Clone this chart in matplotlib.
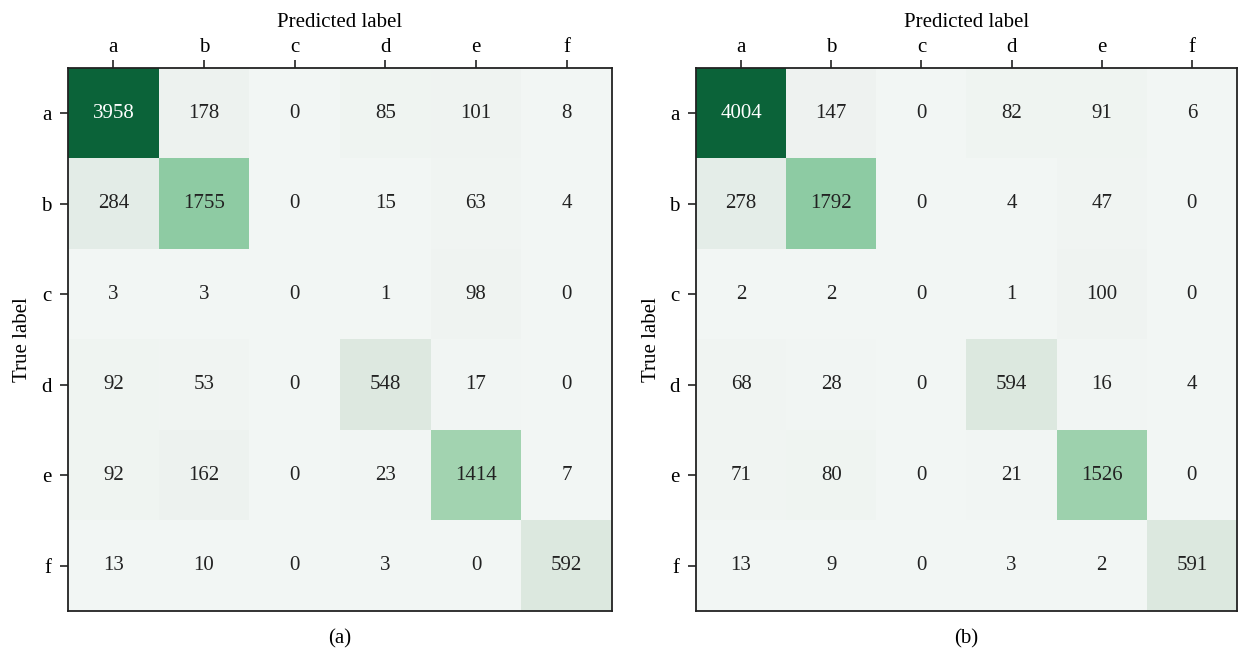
import numpy as np
import matplotlib
matplotlib.use("Agg")
import matplotlib.pyplot as plt
from matplotlib.colors import LinearSegmentedColormap

plt.rcParams['font.family'] = ['Liberation Serif', 'DejaVu Serif']

labels = ['a', 'b', 'c', 'd', 'e', 'f']

cm_a = [
    [3958, 178, 0, 85, 101, 8],
    [284, 1755, 0, 15, 63, 4],
    [3, 3, 0, 1, 98, 0],
    [92, 53, 0, 548, 17, 0],
    [92, 162, 0, 23, 1414, 7],
    [13, 10, 0, 3, 0, 592],
]

cm_b = [
    [4004, 147, 0, 82, 91, 6],
    [278, 1792, 0, 4, 47, 0],
    [2, 2, 0, 1, 100, 0],
    [68, 28, 0, 594, 16, 4],
    [71, 80, 0, 21, 1526, 0],
    [13, 9, 0, 3, 2, 591],
]

panel_tags = ['(a)', '(b)']

# soft green ramp, pale grey-green up to deep green
greens = LinearSegmentedColormap.from_list('soft_greens', [
    (0.00, '#f2f6f4'),
    (0.045, '#edf2ef'),
    (0.072, '#e3ece7'),
    (0.15, '#dce8df'),
    (0.36, '#a2d3b0'),
    (0.45, '#8dcba3'),
    (1.00, '#0b6339'),
])

fig = plt.figure(figsize=(12.38, 6.52), dpi=100)
rects = [
    [68 / 1238, 41 / 652, 544 / 1238, 543 / 652],
    [696 / 1238, 41 / 652, 541 / 1238, 543 / 652],
]

for rect, cm, tag in zip(rects, [cm_a, cm_b], panel_tags):
    ax = fig.add_axes(rect)
    m = np.array(cm)
    ax.imshow(m, cmap=greens, vmin=0, vmax=m.max(), aspect='auto',
              interpolation='nearest')
    thresh = m.max() / 2
    for i in range(m.shape[0]):
        for j in range(m.shape[1]):
            ax.text(j, i, str(m[i, j]), ha='center', va='center', fontsize=15,
                    color='white' if m[i, j] > thresh else '#222222')

    ax.set_xticks(range(len(labels)))
    ax.set_yticks(range(len(labels)))
    ax.set_xticklabels(labels, fontsize=15)
    ax.set_yticklabels(labels, fontsize=15)
    ax.xaxis.tick_top()
    ax.xaxis.set_label_position('top')
    ax.tick_params(length=6, width=1.2, color='#222222')
    ax.tick_params(axis='x', pad=2)
    ax.tick_params(axis='y', pad=6)
    ax.set_xlabel('Predicted label', fontsize=15, labelpad=8)
    ax.set_ylabel('True label', fontsize=15, labelpad=6)
    for s in ax.spines.values():
        s.set_linewidth(1.3)
        s.set_color('#222222')
    ax.text(0.5, -0.033, tag, transform=ax.transAxes, ha='center', va='top',
            fontsize=15)

fig.savefig('out.png', dpi=100)
